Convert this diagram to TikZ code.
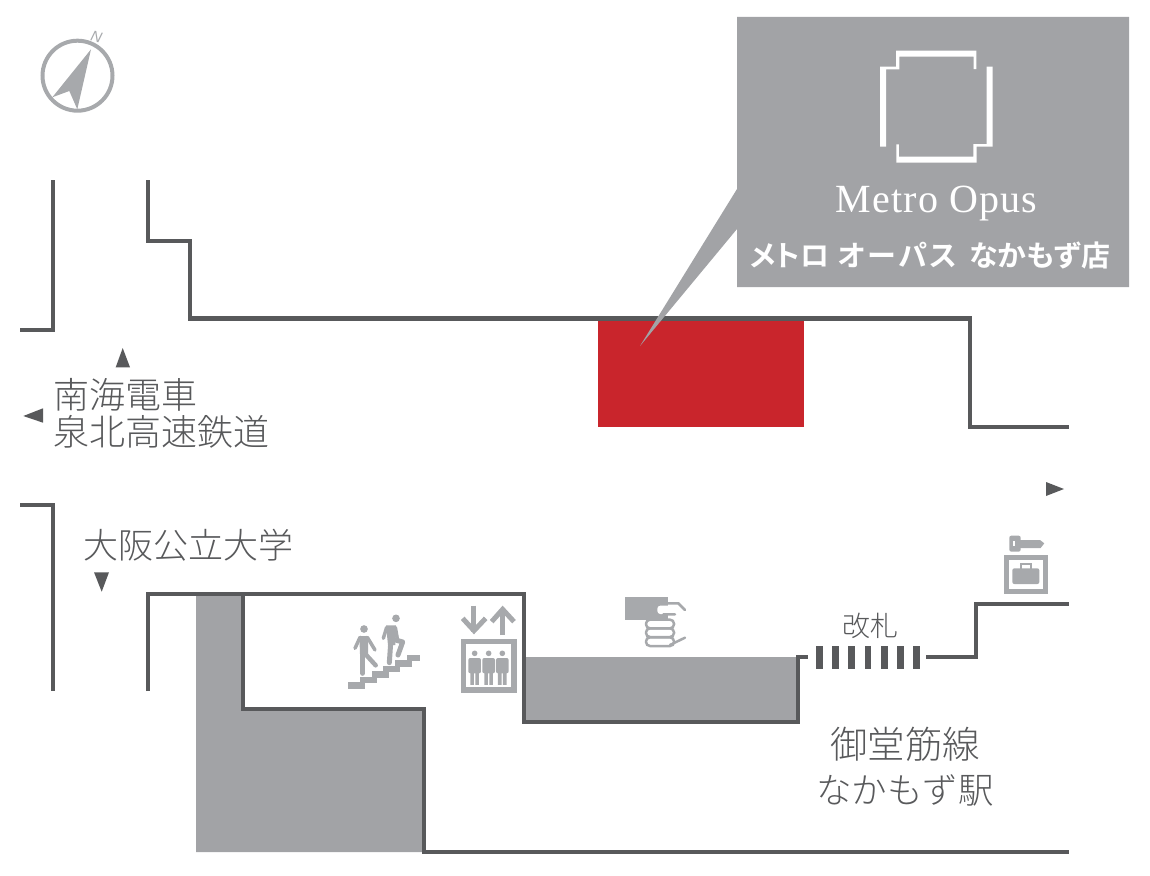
\documentclass[tikz,border=0pt]{standalone}
\usepackage{fontspec}
\setmainfont{Noto Sans CJK JP Light}
\newfontfamily\logofont[LetterSpace=3]{Liberation Serif}
\newfontfamily\shopfont[RawFeature=+palt]{Noto Sans CJK JP Bold}
\newfontfamily\northfont{Liberation Sans}
\usetikzlibrary{calc,positioning}
\definecolor{wall}{HTML}{58595B}
\definecolor{icon}{HTML}{A7A9AC}
\definecolor{floor}{HTML}{A2A3A6}
\definecolor{shop}{HTML}{C9252C}
\tikzset{
  wallline/.style={draw=wall,line width=4.5pt,miter limit=10},
  label/.style={text=wall,inner sep=0pt,font=\fontsize{#1}{37}\selectfont},
  tri/.style={fill=wall},
  zoomed/.style 2 args={shift={(#1,#2)},x=0.3333pt,y=-0.3333pt},
  iconline/.style={draw=icon,line width=#1},
}
\begin{document}
\begin{tikzpicture}[x=1pt,y=-1pt]
  \useasboundingbox (0,0) rectangle (1150,875);

  % floors and shop
  \fill[floor] (196,594) -- (243,594) -- (243,709) -- (424,709) -- (424,852) -- (196,852) -- cycle;
  \fill[floor] (524,657) rectangle (798,722);
  \fill[shop] (598,320) rectangle (804,427);

  % walls
  \draw[wallline] (20,330) -- (53,330) -- (53,180);
  \draw[wallline] (148,180) -- (148,241) -- (190,241) -- (190,318.5) -- (970,318.5) -- (970,427) -- (1069,427);
  \draw[wallline] (20,505) -- (53,505) -- (53,691);
  \draw[wallline] (148,691) -- (148,594) -- (524,594) -- (524,722) -- (798,722) -- (798,657) -- (808,657);
  \draw[wallline] (243,594) -- (243,709) -- (424,709) -- (424,852) -- (1069,852);
  \draw[wallline] (926,657) -- (976,657) -- (976,604) -- (1069,604);

  % ticket gate
  \foreach \n in {0,...,6} {
    \fill[wall] ({816+16.2*\n},646) rectangle ({822.8+16.2*\n},669);
  }

  % callout
  \fill[floor] (737,17) -- (1129,17) -- (1129,287) -- (737,287) -- (737,229) -- (640,346) -- (737,189) -- cycle;
  \foreach \r in {0,180} {
    \fill[white,rotate around={\r:(936.3,106.7)}] (880,146.7) -- (880,66.7) -- (896,66.7) -- (896,50.7)
      -- (976.3,50.7) -- (976.3,69) -- (973.7,69) -- (973.7,56.7) -- (899.3,56.7) -- (899.3,69.3)
      -- (886,69.3) -- (886,146.7) -- cycle;
  }
  \node (name) at (936.5,203.5) [text=white,inner sep=0pt,font=\logofont\fontsize{40}{40}\selectfont] {Metro Opus};
  \node (shopname) at (930,255) [text=white,inner sep=0pt,font=\shopfont\fontsize{29}{29}\selectfont] {メトロ\hspace{8pt}{\addfontfeature{LetterSpace=10}オーパス}\hspace{12pt}なかもず店};

  % labels
  \node (rail) at (53,413) [label=36,anchor=west,align=left] {南海電車\\泉北高速鉄道};
  \node (univ) at (188,545) [label=35] {大阪公立大学};
  \node (gate) at (870,626) [label=28] {改札};
  \node (line) at (905,744) [label=37.5] {御堂筋線};
  \node (stn) at (905,790) [label=35.5] {なかもず駅};

  % direction marks
  \fill[tri] (122.7,348) -- (130,367.3) -- (115.7,367.3) -- cycle;
  \fill[tri] (23.3,416) -- (43,408.3) -- (43,422.7) -- cycle;
  \fill[tri] (94,572.3) -- (109,572.3) -- (101.7,591.7) -- cycle;
  \fill[tri] (1064,489) -- (1046,482) -- (1046,496) -- cycle;

  % compass
  \draw[iconline=4pt] (77.5,75.7) circle (35);
  \fill[icon] (91,49.3) -- (52.3,97.3) -- (69.3,91) -- (77.3,109.3) -- cycle;
  \node (north) at (96.5,36.5) [text=icon,inner sep=0pt,rotate=-15,font=\northfont\itshape\fontsize{15}{15}\selectfont] {N};

  % stairs
  \foreach \n/\w in {0/17,1/17,2/17,3/17,4/17,5/13} {
    \fill[icon] ({348+11.8*\n},{682-5.5*\n}) rectangle ++(\w,6.8);
  }
  \begin{scope}[zoomed={340}{590},line cap=round,line join=round]
    \fill[icon] (72,117) circle (11.5) (168,85) circle (11.5);
    \fill[icon] (58,138) -- (84,138) -- (84,192) -- (60,192) -- cycle;
    \draw[iconline=5pt] (68,190) -- (68,250);
    \draw[iconline=4.5pt] (76,192) -- (107,226);
    \draw[iconline=3.5pt] (60,142) -- (45,175) (82,142) -- (105,180);
    \fill[icon] (138,106) -- (168,106) -- (166,165) -- (144,165) -- cycle;
    \draw[iconline=5pt] (152,160) -- (148,218);
    \draw[iconline=5pt] (160,148) -- (188,156) -- (174,195);
    \draw[iconline=3.5pt] (140,112) -- (130,145) (166,112) -- (172,146);
  \end{scope}

  % elevator
  \begin{scope}[zoomed={340}{590}]
    \draw[iconline=5.5pt] (370,154) rectangle (522,300);
    \draw[iconline=5pt] (402,47) -- (402,125);
    \draw[iconline=5pt] (368,85) -- (402,122) -- (437,85);
    \draw[iconline=5pt] (488,135) -- (488,58);
    \draw[iconline=5pt] (455,95) -- (488,58) -- (522,95);
    \foreach \x in {404,446,487} {
      \fill[icon] (\x,190) circle (8.5);
      \fill[icon,rounded corners=2pt] ({\x-19},204) rectangle ({\x+19},250);
      \fill[icon] ({\x-13},245) rectangle ({\x-2},285) ({\x+2},245) rectangle ({\x+13},285);
    }
  \end{scope}

  % ticket hand
  \begin{scope}[zoomed={610}{585},line cap=round]
    \fill[icon] (45,36) rectangle (174,104);
    \fill[white,rounded corners=3pt] (142,62) rectangle (195,87);
    \draw[iconline=2.5pt] (174,55) -- (205,55) -- (225,75) (160,88) -- (195,88);
    \foreach \y in {104,130,157} {
      \draw[iconline=2.5pt,rounded corners=4pt] (108,\y) rectangle (192,{\y+26});
    }
    \draw[iconline=2.5pt] (180,180) -- (225,158);
  \end{scope}

  % key and locker
  \begin{scope}[zoomed={790}{520}]
    \fill[icon,rounded corners=2pt] (658,47) rectangle (692,95);
    \fill[white] (669,64) rectangle (674,78);
    \fill[icon] (690,60) -- (750,60) -- (763,70) -- (752,84) -- (690,84) -- cycle;
    \draw[iconline=5pt] (650,113) rectangle (767,214);
    \fill[icon,rounded corners=2pt] (667,145) rectangle (748,192);
    \draw[iconline=2pt] (692,147) -- (692,131) -- (722,131) -- (722,147);
  \end{scope}
\end{tikzpicture}
\end{document}
